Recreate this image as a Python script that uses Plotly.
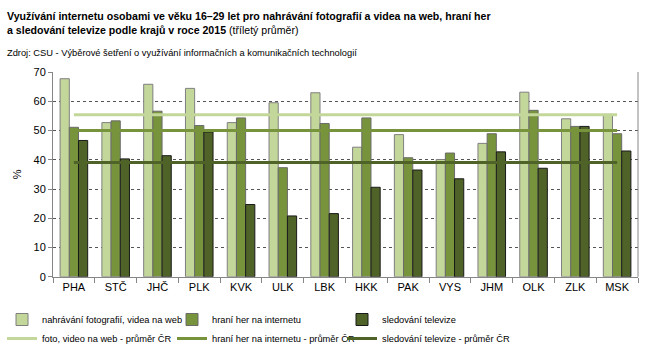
import plotly.graph_objects as go

kraje = ["PHA", "STČ", "JHČ", "PLK", "KVK", "ULK", "LBK", "HKK", "PAK", "VYS", "JHM", "OLK", "ZLK", "MSK"]
foto_video = [67.7, 52.7, 65.8, 64.4, 52.7, 59.5, 62.9, 44.3, 48.6, 40.1, 45.6, 63.1, 54.0, 55.5]
hry = [51.1, 53.3, 56.6, 51.7, 54.3, 37.3, 52.4, 54.3, 40.7, 42.3, 48.9, 56.9, 51.4, 48.9]
televize = [46.6, 40.3, 41.4, 49.5, 24.7, 20.8, 21.6, 30.6, 36.5, 33.5, 42.7, 37.1, 51.4, 43.0]
prumer_foto = 55.4
prumer_hry = 50.0
prumer_tv = 39.1

names_bar = ["nahrávání fotografií, videa na web", "hraní her na internetu", "sledování televize"]
names_line = ["foto, video na web - průměr ČR", "hraní her na internetu - průměr ČR", "sledování televize - průměr ČR"]
c_light, c_mid, c_dark = "#c4d79b", "#77933c", "#4f6228"

W, H = 650, 353
L, R, T, B = 53, 12, 72, 66
PW, PH = W - L - R, H - T - B


def px_x(x):
    return (x - L) / PW


def px_y(y):
    return (H - B - y) / PH


fig = go.Figure()
for vals, name, col, outline in [
    (foto_video, names_bar[0], c_light, "#7f7f7f"),
    (hry, names_bar[1], c_mid, "#6b6b6b"),
    (televize, names_bar[2], c_dark, "#1a1a1a"),
]:
    fig.add_trace(go.Bar(x=kraje, y=vals, name=name, marker=dict(color=col, line=dict(color=outline, width=1))))

for val, name, col in [
    (prumer_foto, names_line[0], c_light),
    (prumer_hry, names_line[1], c_mid),
    (prumer_tv, names_line[2], c_dark),
]:
    fig.add_trace(go.Scatter(x=kraje, y=[val] * len(kraje), name=name, mode="lines",
                             line=dict(color=col, width=3)))

fig.update_layout(
    width=W, height=H,
    margin=dict(l=L, r=R, t=T, b=B),
    paper_bgcolor="white", plot_bgcolor="white",
    font=dict(family="Liberation Sans, Arial, sans-serif", size=11, color="black"),
    barmode="group", bargap=0.34, bargroupgap=0,
    showlegend=True,
    legend=dict(orientation="h", xref="container", yref="container", x=2 / W, y=1 - 305 / H,
                xanchor="left", yanchor="top", entrywidth=125, tracegroupgap=0,
                font=dict(size=9.3), itemwidth=30, traceorder="normal"),
    xaxis=dict(showline=True, linecolor="#868686", linewidth=1, ticks="outside", tickson="boundaries",
               ticklen=5, tickcolor="#868686", tickfont=dict(size=11), showgrid=False),
    yaxis=dict(range=[0, 70], dtick=10, showline=True, linecolor="#868686", linewidth=1,
               ticks="outside", ticklen=4, tickcolor="#868686", showgrid=True, gridcolor="#555555",
               griddash="dot", gridwidth=1, tickfont=dict(size=11), zeroline=False,
               title=dict(text="%", font=dict(size=11), standoff=9)),
    annotations=[
        dict(xref="paper", yref="paper", x=px_x(5), y=px_y(5), xanchor="left", yanchor="top",
             align="left", showarrow=False,
             text="<b>Využívání internetu osobami ve věku 16–29 let pro nahrávání fotografií a videa na web, hraní her</b>"
                  "<br><b>a sledování televize podle krajů v roce 2015</b> (tříletý průměr)",
             font=dict(size=10.6, family="Liberation Sans, Arial, sans-serif")),
        dict(xref="paper", yref="paper", x=px_x(5), y=px_y(45), xanchor="left", yanchor="top",
             align="left", showarrow=False,
             text="Zdroj: CSU - Výběrové šetření o využívání informačních a komunikačních technologií",
             font=dict(size=9.3, family="Liberation Sans, Arial, sans-serif")),
    ],
    shapes=[dict(type="line", xref="paper", yref="paper", x0=1, x1=1, y0=0, y1=1,
                 line=dict(color="#868686", width=1))],
)

fig.write_html("out.html")
